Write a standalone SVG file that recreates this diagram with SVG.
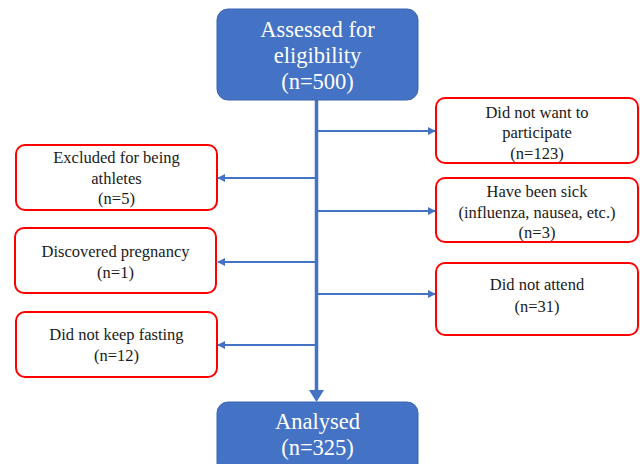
<svg xmlns="http://www.w3.org/2000/svg" width="640" height="464" viewBox="0 0 640 464">
<defs>
<style>
.blue{fill:#4472C4;stroke:#3A64B0;stroke-width:1}
.red{fill:#fff;stroke:#FF0000;stroke-width:2}
.wt{font-size:22.5px;fill:#fff;text-anchor:middle}
.bt{font-size:16.5px;fill:#1a1a1a;text-anchor:middle}
.ln{stroke:#4472C4;stroke-width:2;fill:none}
</style>
<marker id="ah" viewBox="0 0 10 10" refX="9" refY="5" markerWidth="4" markerHeight="4" orient="auto" markerUnits="strokeWidth">
<path d="M0,0 L10,5 L0,10 z" fill="#4472C4"/>
</marker>
</defs>
<rect width="640" height="464" fill="#fff"/>
<g font-family="Liberation Serif, DejaVu Serif, serif">
<g id="connectors">
<line class="ln" x1="316.5" y1="100" x2="316.5" y2="392" style="stroke-width:3.5"/>
<path d="M309,390 L324,390 L316.5,402 z" fill="#4472C4"/>
<line class="ln" x1="316.5" y1="131" x2="435" y2="131" marker-end="url(#ah)"/>
<line class="ln" x1="316.5" y1="211" x2="435" y2="211" marker-end="url(#ah)"/>
<line class="ln" x1="316.5" y1="294" x2="435" y2="294" marker-end="url(#ah)"/>
<line class="ln" x1="316.5" y1="178" x2="218" y2="178" marker-end="url(#ah)"/>
<line class="ln" x1="316.5" y1="262" x2="218" y2="262" marker-end="url(#ah)"/>
<line class="ln" x1="316.5" y1="345" x2="218" y2="345" marker-end="url(#ah)"/>
</g>
<g id="assessed">
<rect class="blue" x="217" y="9" width="201" height="91" rx="11"/>
<text class="wt" x="317.5" y="37">Assessed for</text>
<text class="wt" x="317.5" y="63">eligibility</text>
<text class="wt" x="317.5" y="89">(n=500)</text>
</g>
<g id="analysed">
<rect class="blue" x="217" y="402" width="201" height="72" rx="11"/>
<text class="wt" x="317.5" y="429">Analysed</text>
<text class="wt" x="317.5" y="455">(n=325)</text>
</g>
<g id="not-want">
<rect class="red" x="436" y="98" width="202" height="65" rx="9"/>
<text class="bt" x="537" y="118">Did not want to</text>
<text class="bt" x="537" y="138">participate</text>
<text class="bt" x="537" y="159">(n=123)</text>
</g>
<g id="sick">
<rect class="red" x="436" y="178" width="202" height="64" rx="9"/>
<text class="bt" x="537" y="197">Have been sick</text>
<text class="bt" x="537" y="218">(influenza, nausea, etc.)</text>
<text class="bt" x="537" y="238">(n=3)</text>
</g>
<g id="not-attend">
<rect class="red" x="436" y="263" width="202" height="72" rx="9"/>
<text class="bt" x="537" y="290">Did not attend</text>
<text class="bt" x="537" y="312">(n=31)</text>
</g>
<g id="athletes">
<rect class="red" x="16" y="145" width="201" height="65" rx="9"/>
<text class="bt" x="116.5" y="163">Excluded for being</text>
<text class="bt" x="116.5" y="184">athletes</text>
<text class="bt" x="116.5" y="204">(n=5)</text>
</g>
<g id="pregnancy">
<rect class="red" x="15" y="228" width="201" height="65" rx="9"/>
<text class="bt" x="115.5" y="257">Discovered pregnancy</text>
<text class="bt" x="115.5" y="278">(n=1)</text>
</g>
<g id="fasting">
<rect class="red" x="16" y="312" width="201" height="65" rx="9"/>
<text class="bt" x="116.5" y="340">Did not keep fasting</text>
<text class="bt" x="116.5" y="361">(n=12)</text>
</g>
</g>
</svg>
